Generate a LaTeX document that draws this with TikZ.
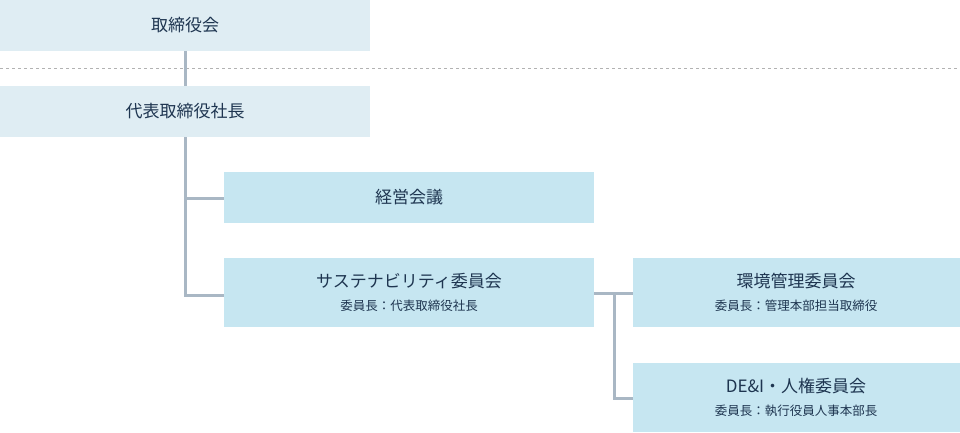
\documentclass[tikz,border=0pt]{standalone}
\usepackage{fontspec}
\setmainfont{Noto Sans CJK JP}
\begin{document}
\begin{tikzpicture}[x=1pt,y=-1pt,
  top/.style={fill=topc,draw=none},
  box/.style={fill=boxc,draw=none},
  ln/.style={draw=linec,line width=3pt},
  ttl/.style={font=\fontsize{17}{20}\selectfont,text=txtc},
  sub/.style={font=\fontsize{12.5}{15}\selectfont,text=txtc}]
\definecolor{topc}{HTML}{DFEDF3}
\definecolor{boxc}{HTML}{C6E6F1}
\definecolor{linec}{HTML}{A9B7C4}
\definecolor{txtc}{HTML}{1E3550}
\useasboundingbox (0,0) rectangle (960,433);
\fill[top] (0,0) rectangle (370,51);
\node[ttl] (a) at (185,25.5) {取締役会};
\draw[dashed,draw=gray!60,line width=0.8pt] (0,68) -- (960,68);
\fill[top] (0,86) rectangle (370,137);
\node[ttl] (b) at (185,111.5) {代表取締役社長};
\fill[box] (224,172) rectangle (594,223);
\node[ttl] (c) at (409,197.5) {経営会議};
\fill[box] (224,258) rectangle (594,327);
\node[ttl] (d) at (409,281) {サステナビリティ委員会};
\node[sub] (d2) at (409,306) {委員長：代表取締役社長};
\fill[box] (633,258) rectangle (960,327);
\node[ttl] (e) at (796,281) {環境管理委員会};
\node[sub] (e2) at (796,306) {委員長：管理本部担当取締役};
\fill[box] (633,363) rectangle (960,432);
\node[ttl] (f) at (796,386) {DE\&I・人権委員会};
\node[sub] (f2) at (796,411) {委員長：執行役員人事本部長};
\coordinate (p1) at (185,51); \coordinate (p2) at (185,86);
\coordinate (p3) at (185,137); \coordinate (p4) at (185,198); \coordinate (p5) at (185,295);
\coordinate (c1) at (224,198); \coordinate (d1) at (224,295);
\coordinate (q1) at (594,293); \coordinate (q2) at (614,293); \coordinate (q3) at (614,398);
\coordinate (e1) at (633,293); \coordinate (f1) at (633,398);
\draw[ln] (p1) -- (p2);
\draw[ln] (p3) -- (p5) -- (d1);
\draw[ln] (p4) -- (c1);
\draw[ln] (q1) -- (e1);
\draw[ln] (q2) -- (q3) -- (f1);
\end{tikzpicture}
\end{document}
